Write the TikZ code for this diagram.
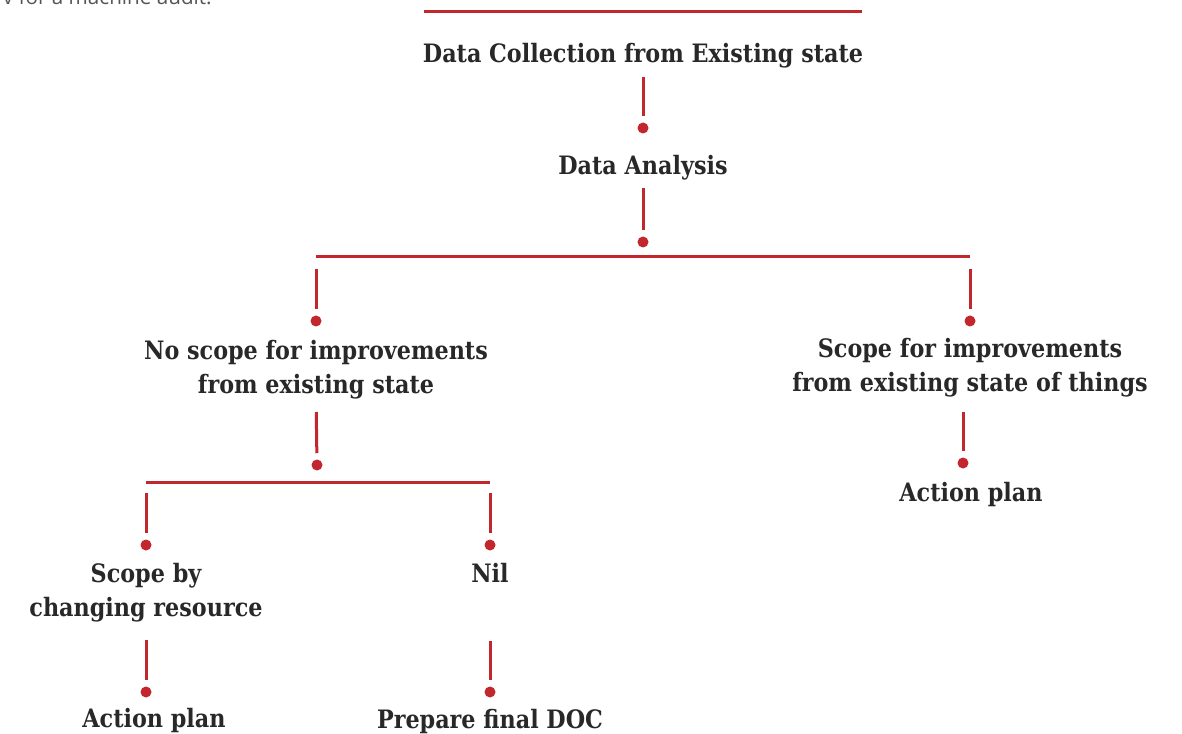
\documentclass[tikz,border=0pt]{standalone}
\usepackage{fontspec}
\setmainfont{DejaVu Serif}[FakeStretch=0.88]
\newfontfamily\notefont{Open Sans}
\usepackage{tikz}

\definecolor{brick}{RGB}{193,39,45}
\definecolor{ink}{RGB}{40,40,40}
\definecolor{note}{RGB}{85,85,85}

\tikzset{
  lbl/.style={font=\bfseries\fontsize{19}{25.5}\selectfont, text=ink,
    align=center, anchor=base, inner sep=0pt},
  bar/.style={draw=brick, line width=2.25pt},
  stem/.style={draw=brick, line width=2.25pt, shorten >=4.5pt},
  dot/.style={circle, fill=brick, inner sep=0pt, minimum size=8.25pt},
}

\begin{document}
\begin{tikzpicture}[x=0.75pt,y=0.75pt,yscale=-1,xscale=1]
    \useasboundingbox (0,0) rectangle (1182,734);

    % caption running in from above
    \node[font=\notefont\fontsize{15.5}{18}\selectfont, text=note,
      anchor=base east, inner sep=0pt] (caption) at (212,5) {v for a machine audit.};

    % top rule
    \coordinate (rule-l) at (424,12);
    \coordinate (rule-r) at (862,12);
    \draw[bar] (rule-l) -- (rule-r);

    % Text Node
    \node[lbl] (collect) at (643,63) {Data Collection from Existing state};
    \node[dot] (d-analysis) at (643,128) {};
    % Text Node
    \node[lbl] (analysis) at (643,175) {Data Analysis};
    \node[dot] (d-fork) at (643,242) {};

    % first fork
    \coordinate (fork-l) at (316,257);
    \coordinate (fork-r) at (970,257);
    \draw[bar] (fork-l) -- (fork-r);
    \node[dot] (d-noscope) at (316,321) {};
    \node[dot] (d-scope) at (970,321) {};
    % Text Node (base = last line)
    \node[lbl] (noscope) at (316,393) {No scope for improvements\\from existing state};
    % Text Node
    \node[lbl] (scope) at (970,392) {Scope for improvements\\from existing state of things};
    \node[dot] (d-split) at (317,465) {};
    \node[dot] (d-plan-r) at (963,463) {};
    % Text Node
    \node[lbl] (plan-r) at (971,501) {Action plan};

    % second fork
    \coordinate (split-l) at (146,482);
    \coordinate (split-r) at (490,482);
    \draw[bar] (split-l) -- (split-r);
    \node[dot] (d-resource) at (146,545) {};
    \node[dot] (d-nil) at (490,545) {};
    % Text Node
    \node[lbl] (resource) at (146,616) {Scope by\\changing resource};
    % Text Node
    \node[lbl] (nil) at (490,582) {Nil};
    \node[dot] (d-plan-l) at (146,692) {};
    \node[dot] (d-doc) at (490,692) {};
    % Text Node
    \node[lbl] (plan-l) at (154,727) {Action plan};
    % Text Node
    \node[lbl] (doc) at (490,728) {Prepare final DOC};

    % stems
    \draw[stem, shorten <=10.5pt] (collect.base) -- (d-analysis);
    \draw[stem, shorten <=9.75pt] (analysis.base) -- (d-fork);
    \draw[stem, shorten <=9pt] (fork-l) -- (d-noscope);
    \draw[stem, shorten <=9pt] (fork-r) -- (d-scope);
    \draw[stem, shorten <=14.25pt] (noscope.base) -- (d-split);
    \draw[stem, shorten <=15pt] (scope.base -| d-plan-r) -- (d-plan-r);
    \draw[stem, shorten <=8.25pt] (split-l) -- (d-resource);
    \draw[stem, shorten <=8.25pt] (split-r) -- (d-nil);
    \draw[stem, shorten <=18pt] (resource.base) -- (d-plan-l);
    \draw[stem, shorten <=44.25pt] (nil.base) -- (d-doc);
\end{tikzpicture}
\end{document}
